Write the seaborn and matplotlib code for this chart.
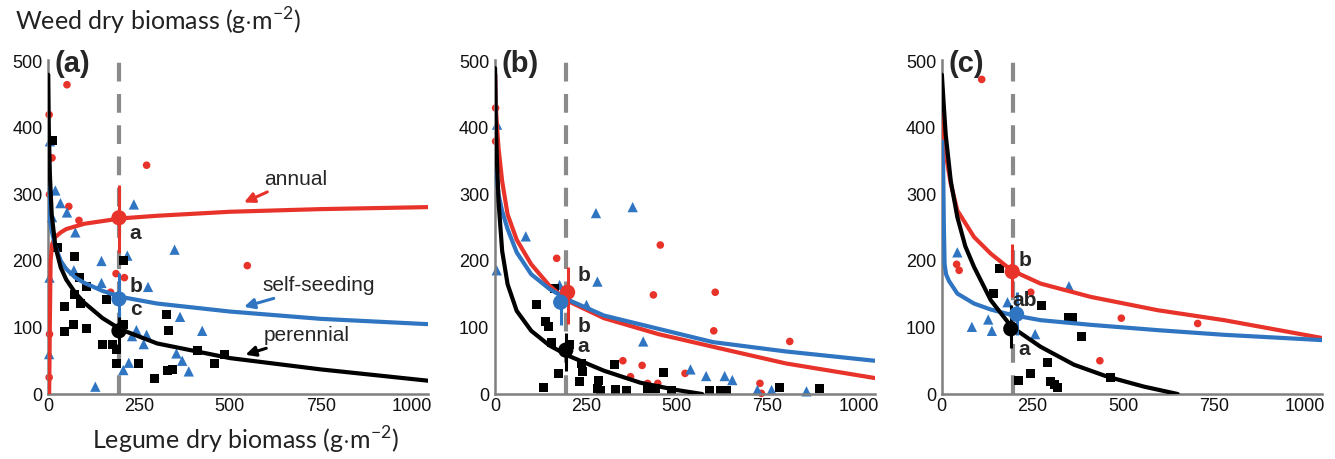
import numpy as np
import pandas as pd
import matplotlib
matplotlib.use("Agg")
import matplotlib.pyplot as plt
import seaborn as sns

red = "#e8332b"
blue = "#2f75c2"
black = "#000000"
groups = ["annual", "self-seeding", "perennial"]
palette = {"annual": red, "self-seeding": blue, "perennial": black}

# ---------------- panel (a) ----------------
a_annual_pts = [(52, 465), (11, 355), (271, 344), (57, 282), (85, 261), (548, 193),
                (187, 181), (210, 175), (172, 153), (3, 420), (4, 90), (3, 25), (4, 300)]
a_self_pts = [(20, 306), (34, 287), (52, 273), (75, 243), (71, 186), (11, 266), (147, 200),
              (147, 167), (218, 208), (236, 285), (348, 217), (275, 161), (363, 116),
              (424, 95), (243, 96), (271, 89), (231, 87), (263, 75), (353, 61), (369, 50),
              (387, 34), (222, 47), (207, 36), (130, 11), (5, 380), (4, 175), (3, 60)]
a_peren_pts = [(13, 381), (25, 221), (73, 206), (86, 175), (106, 161), (73, 149), (89, 136),
               (46, 131), (69, 104), (46, 94), (107, 99), (161, 142), (207, 201), (151, 75),
               (178, 75), (188, 67), (188, 46), (208, 104), (250, 46), (293, 24), (325, 120),
               (332, 95), (328, 35), (343, 37), (410, 66), (484, 59), (458, 46)]
a_annual_curve = [(3, 0), (5, 110), (7, 200), (11, 225), (20, 236), (35, 243), (50, 248),
                  (100, 256), (200, 264), (300, 268), (500, 274), (750, 278), (1045, 281)]
a_self_curve = [(0.5, 330), (2, 290), (5, 262), (10, 245), (20, 222), (35, 200), (50, 188),
                (75, 175), (100, 167), (150, 155), (200, 146), (300, 136), (500, 124),
                (750, 113), (1045, 105)]
a_peren_curve = [(0.5, 480), (2, 400), (5, 330), (10, 270), (20, 222), (35, 190), (50, 172),
                 (75, 152), (100, 137), (150, 114), (200, 97), (300, 76), (500, 54),
                 (750, 37), (1045, 20)]
a_means = [(195, 265, 212, 315), (195, 143, 98, 182), (195, 95, 66, 116)]  # x, y, lo, hi
a_letters = [(225, 242, "a"), (225, 161, "b"), (225, 127, "c")]

# ---------------- panel (b) ----------------
b_annual_pts = [(170, 204), (455, 224), (436, 149), (606, 153), (602, 95), (811, 79),
                (352, 50), (405, 43), (523, 31), (729, 16), (373, 26), (420, 16), (448, 16),
                (733, 1), (2, 380), (2, 430)]
b_self_pts = [(5, 186), (85, 237), (278, 272), (379, 281), (282, 169), (178, 164), (252, 134),
              (408, 79), (538, 37), (581, 27), (632, 27), (653, 21), (722, 6), (761, 6),
              (857, 4), (6, 405)]
b_peren_pts = [(115, 135), (138, 109), (147, 101), (156, 77), (174, 31), (135, 10), (163, 159),
               (204, 75), (238, 46), (241, 34), (234, 19), (285, 21), (290, 6), (283, 9),
               (330, 44), (331, 7), (363, 6), (420, 9), (463, 32), (443, 9), (485, 6),
               (591, 6), (621, 5), (637, 5), (784, 10), (892, 9)]
b_annual_curve = [(1, 480), (3, 430), (6, 400), (10, 370), (20, 320), (35, 270), (60, 232),
                  (100, 195), (150, 163), (200, 140), (300, 114), (450, 90), (600, 71),
                  (800, 46), (1045, 24)]
b_self_curve = [(0.5, 480), (2, 400), (5, 330), (10, 300), (20, 275), (35, 248), (60, 213),
                (100, 180), (150, 158), (200, 142), (300, 118), (450, 98), (600, 78),
                (800, 64), (1045, 50)]
b_peren_curve = [(0.5, 490), (2, 420), (5, 360), (10, 290), (20, 215), (35, 165), (60, 125),
                 (100, 95), (150, 73), (200, 58), (300, 35), (400, 17), (500, 6), (570, 0)]
b_means = [(200, 153, 106, 191), (181, 138, 104, 159), (195, 66, 34, 91)]
b_letters = [(228, 178, "b"), (228, 101, "b"), (228, 72, "a")]

# ---------------- panel (c) ----------------
c_annual_pts = [(110, 473), (41, 195), (48, 186), (245, 153), (494, 114), (704, 106), (435, 50)]
c_self_pts = [(43, 213), (83, 101), (128, 112), (138, 95), (181, 138), (257, 90), (350, 162)]
c_peren_pts = [(158, 189), (142, 151), (274, 133), (350, 115), (361, 115), (385, 86),
               (291, 47), (245, 31), (211, 21), (300, 19), (309, 14), (318, 10), (465, 25)]
c_annual_curve = [(3, 430), (6, 390), (10, 365), (16, 345), (25, 316), (43, 276), (89, 236),
                  (135, 211), (192, 186), (272, 166), (410, 146), (594, 126), (777, 111),
                  (1048, 84)]
c_self_curve = [(1, 380), (4, 340), (6, 250), (8, 195), (12, 180), (20, 170), (43, 151),
                (89, 136), (135, 127), (192, 119), (272, 111), (410, 104), (594, 96),
                (777, 89), (1048, 81)]
c_peren_curve = [(0.5, 480), (5, 440), (11, 390), (25, 320), (43, 266), (65, 222), (89, 191),
                 (135, 141), (192, 101), (272, 71), (364, 44), (456, 26), (557, 11), (649, 0)]
c_means = [(194, 184, 146, 226), (206, 120, 89, 154), (190, 98, 69, 134)]
c_letters = [(212, 201, "b"), (195, 140, "ab"), (212, 67, "a")]

panels = [
    ("(a)", [a_annual_pts, a_self_pts, a_peren_pts], [a_annual_curve, a_self_curve, a_peren_curve], a_means, a_letters),
    ("(b)", [b_annual_pts, b_self_pts, b_peren_pts], [b_annual_curve, b_self_curve, b_peren_curve], b_means, b_letters),
    ("(c)", [c_annual_pts, c_self_pts, c_peren_pts], [c_annual_curve, c_self_curve, c_peren_curve], c_means, c_letters),
]

dashed_x = 195
x_ticks = [0, 250, 500, 750, 1000]
y_ticks = [0, 100, 200, 300, 400, 500]

sns.set_style("white")
plt.rcParams["font.family"] = ["Liberation Sans", "DejaVu Sans"]
plt.rcParams["mathtext.fontset"] = "custom"
plt.rcParams["mathtext.rm"] = "Lato"

fig, axes = plt.subplots(1, 3, figsize=(13.35, 4.59), dpi=100)
fig.subplots_adjust(left=0.036, right=0.990, bottom=0.1416, top=0.869, wspace=0.176)


def to_df(lists):
    frames = []
    for g, pts in zip(groups, lists):
        d = pd.DataFrame(pts, columns=["x", "y"])
        d["group"] = g
        frames.append(d)
    return pd.concat(frames, ignore_index=True)


for ax, (label, pts, curves, means, letters) in zip(axes, panels):
    ax.axvline(dashed_x, ymin=0, ymax=1, color="#8a8a8a", lw=3, dashes=(4.5, 3), zorder=1)

    pts_df = to_df(pts)
    sns.scatterplot(data=pts_df, x="x", y="y", hue="group", style="group", size="group",
                    palette=palette, markers={"annual": "o", "self-seeding": "^", "perennial": "s"},
                    sizes={"annual": 30, "self-seeding": 55, "perennial": 42},
                    linewidth=0, legend=False, ax=ax, zorder=2, clip_on=False)

    curve_df = to_df(curves)
    sns.lineplot(data=curve_df, x="x", y="y", hue="group", palette=palette, estimator=None,
                 sort=True, lw=3, legend=False, ax=ax, zorder=3)

    mean_df = pd.DataFrame([m[:2] for m in means], columns=["x", "y"])
    mean_df["group"] = groups
    for (mx, my, lo, hi), g in zip(means, groups):
        ax.vlines(mx, lo, hi, color=palette[g], lw=2.2, zorder=4)
    sns.scatterplot(data=mean_df, x="x", y="y", hue="group", palette=palette, s=120,
                    linewidth=0, legend=False, ax=ax, zorder=5)

    for lx, ly, t in letters:
        ax.text(lx, ly, t, fontsize=15, fontweight="bold", ha="left", va="center", zorder=6)

    ax.text(18, 496, label, fontsize=21, fontweight="bold", ha="left", va="center")

    ax.set_xlim(0, 1045)
    ax.set_ylim(0, 502)
    ax.set_xticks(x_ticks)
    ax.set_yticks(y_ticks)
    ax.set_xlabel("")
    ax.set_ylabel("")
    sns.despine(ax=ax)
    for s in ["left", "bottom"]:
        ax.spines[s].set_color("#7f7f7f")
        ax.spines[s].set_linewidth(1.8)
    ax.tick_params(axis="both", labelsize=13, colors="#7f7f7f", labelcolor="#111111",
                   length=3, width=1.2, pad=1)
    ax.tick_params(axis="x", length=0, pad=3)

# curve labels with arrows on panel (a)
ax = axes[0]
for txt, tx, ty, ax_x, ax_y, col in [("annual", 594, 323, 539, 288, red),
                                     ("self-seeding", 589, 163, 539, 131, blue),
                                     ("perennial", 594, 88, 543, 59, black)]:
    ax.annotate(txt, xy=(ax_x, ax_y), xytext=(tx, ty), fontsize=15, ha="left", va="center",
                arrowprops=dict(arrowstyle="-|>", color=col, lw=2.2, mutation_scale=15,
                                shrinkA=0, shrinkB=0))

fig.text(0.011, 0.953, r"Weed dry biomass (g$\cdot$m$^{\mathregular{-2}}$)", fontsize=18,
         family="Lato", color="#222222", ha="left", va="center")
fig.text(0.184, 0.040, r"Legume dry biomass (g$\cdot$m$^{\mathregular{-2}}$)", fontsize=18,
         family="Lato", color="#222222", ha="center", va="center")

fig.savefig("out.png", dpi=100)
